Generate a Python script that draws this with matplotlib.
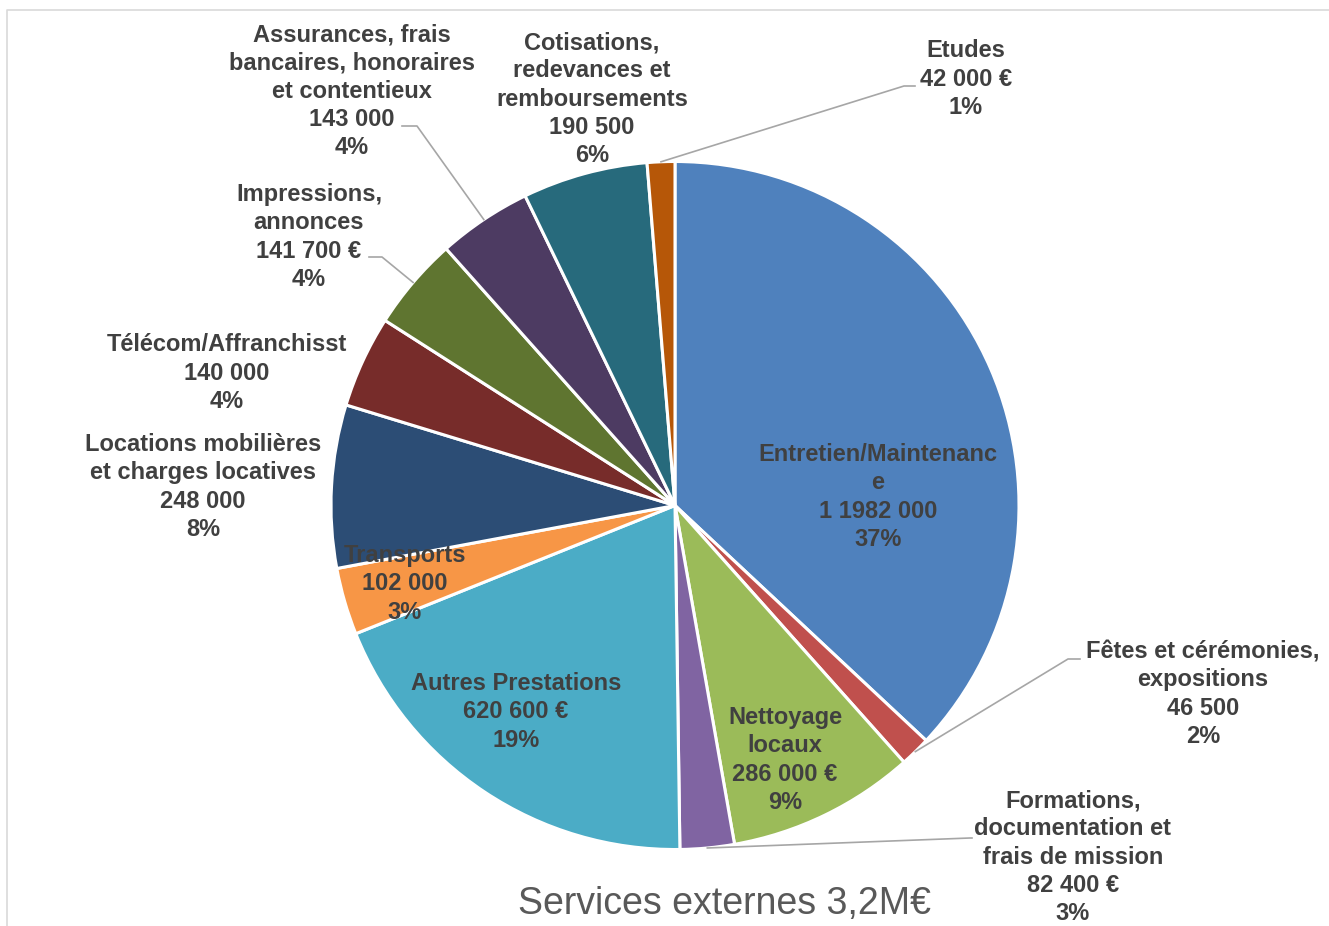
import numpy as np
import matplotlib.pyplot as plt

W, H = 1329, 926

# data, clockwise from 12 o'clock
names = ["Entretien/Maintenanc\ne", "Fêtes et cérémonies,\nexpositions", "Nettoyage\nlocaux",
         "Formations,\ndocumentation et\nfrais de mission", "Autres Prestations", "Transports",
         "Locations mobilières\net charges locatives", "Télécom/Affranchisst", "Impressions,\nannonces",
         "Assurances, frais\nbancaires, honoraires\net contentieux",
         "Cotisations,\nredevances et\nremboursements", "Etudes"]
values = [1198200, 46500, 286000, 82400, 620600, 102000, 248000, 140000, 141700, 143000, 190500, 42000]
value_labels = ["1 1982 000", "46 500", "286 000 €", "82 400 €", "620 600 €", "102 000",
                "248 000", "140 000", "141 700 €", "143 000", "190 500", "42 000 €"]
pct_labels = ["37%", "2%", "9%", "3%", "19%", "3%", "8%", "4%", "4%", "4%", "6%", "1%"]
colors = ["#4F81BD", "#C0504D", "#9BBB59", "#8064A2", "#4BACC6", "#F79646",
          "#2C4D75", "#772C2A", "#5F7530", "#4D3B62", "#276A7C", "#B65708"]
title = "Services externes 3,2M€"

# label centres in image pixels (layout)
label_xy = [(878, 497), (1203, 694), (785, 760), (1073, 857), (516, 712), (405, 584),
            (203, 487), (227, 373), (309, 237), (352, 91), (592, 99), (966, 79)]
# leader lines: elbow point and end point (image pixels)
leaders = {1: [(1068, 659), (1080, 659)], 3: [(970, 838), (972, 838)],
           8: [(382, 257), (369, 257)], 9: [(417, 126), (402, 126)], 11: [(904, 86), (915, 86)]}

fig = plt.figure(figsize=(W / 100, H / 100), dpi=100)
ax = fig.add_axes([0, 0, 1, 1])

cx, cy, r = 675, H - 505.5, 344
wedges, _ = ax.pie(values, colors=colors, startangle=90, counterclock=False,
                   center=(cx, cy), radius=r, frame=True,
                   wedgeprops=dict(edgecolor="white", linewidth=2.2))
ax.set_xlim(0, W)
ax.set_ylim(0, H)
ax.set_aspect("equal")
ax.axis("off")

for i, w in enumerate(wedges):
    txt = names[i] + "\n" + value_labels[i] + "\n" + pct_labels[i]
    x, y = label_xy[i]
    ax.text(x, H - y, txt, ha="center", va="center", fontsize=17, fontweight="bold",
            family="Liberation Sans", color="#404040", linespacing=1.28)
    if i in leaders:
        ang = np.deg2rad((w.theta1 + w.theta2) / 2)
        sx, sy = cx + r * np.cos(ang), cy + r * np.sin(ang)
        pts = [(sx, sy)] + [(px, H - py) for px, py in leaders[i]]
        ax.plot([p[0] for p in pts], [p[1] for p in pts], color="#A6A6A6", lw=1.2)

ax.text(725, H - 904, title, ha="center", va="center", fontsize=27,
        family="Liberation Sans", color="#595959")

# chart area border
ax.plot([7, 7, W + 5], [-5, H - 10, H - 10], color="#D9D9D9", lw=1.2, clip_on=False)

fig.savefig("out.png", dpi=100)
